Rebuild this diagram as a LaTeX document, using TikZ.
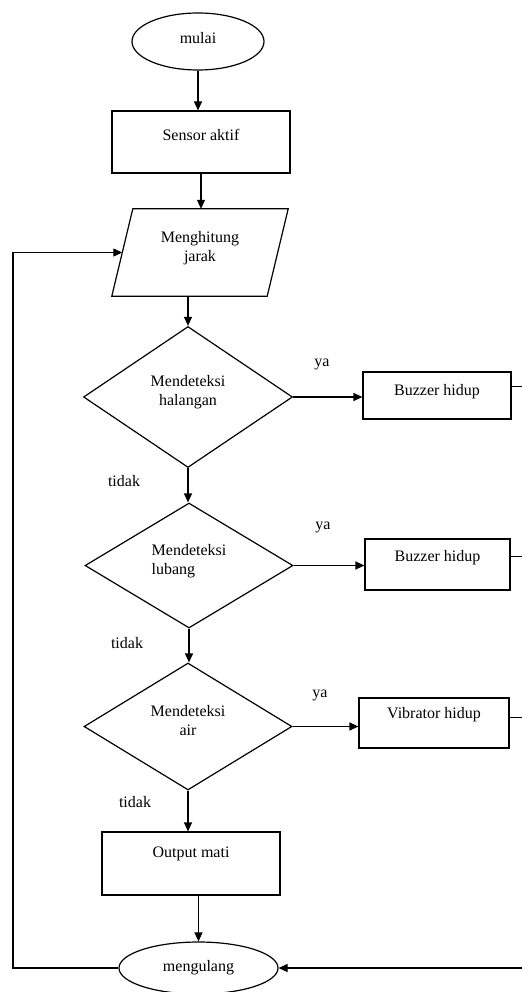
\documentclass[tikz,border=0pt]{standalone}
\usepackage{fontspec}
\setmainfont{Liberation Serif}
\usetikzlibrary{shapes.geometric,arrows.meta,calc}
\newcommand\mylift[2]{\raisebox{#1}[0pt][0pt]{#2}}
\begin{document}
\begin{tikzpicture}[x=1pt,y=-1pt,
  every node/.style={font=\fontsize{16}{19}\selectfont},
  line/.style={line width=1.2pt, black},
  arr/.style={line, -{Triangle[length=9pt,width=8pt]}},
  term/.style={draw, line width=1.2pt, ellipse, inner sep=0pt},
  procbox/.style={draw, line width=1.2pt, rectangle, inner sep=0pt},
  decide/.style={draw, line width=1.2pt, diamond, inner sep=0pt},
  inoutbox/.style={rectangle, inner sep=0pt},
  lbl/.style={anchor=base, inner sep=0pt}
]
\useasboundingbox (0,0) rectangle (522,992);

\node[term, minimum width=132pt, minimum height=57pt] (start) at (198,41.5) {\mylift{-2pt}{mulai}};
\node[procbox, minimum width=178pt, minimum height=62pt] (sensor) at (201,142) {\mylift{1.5pt}{Sensor aktif}};
\node[inoutbox, minimum width=176pt, minimum height=87pt] (par) at (200,252.5) {\mylift{0pt}{\begin{tabular}{@{}c@{}}Menghitung\\jarak\end{tabular}}};
\draw[line, line join=miter] (par.south west) -- ($(par.north west)+(21,0)$) -- (par.north east) -- ($(par.south east)+(-21,0)$) -- cycle;
\coordinate (parleft) at ($(par.west)+(10.5,0)$);

\node[decide, minimum width=209pt, minimum height=141pt] (d1) at (188,397) {\mylift{0pt}{\begin{tabular}{@{}c@{}}Mendeteksi\\halangan\end{tabular}}};
\node[decide, minimum width=208pt, minimum height=125pt] (d2) at (189,565.5) {\mylift{0pt}{\begin{tabular}{@{}l@{}}Mendeteksi\\lubang\end{tabular}}};
\node[decide, minimum width=208pt, minimum height=127pt] (d3) at (188,726.5) {\mylift{0pt}{\begin{tabular}{@{}c@{}}Mendeteksi\\air\end{tabular}}};

\node[procbox, minimum width=148pt, minimum height=47pt] (b1) at (437,395.5) {\mylift{0pt}{Buzzer hidup}};
\node[procbox, minimum width=145pt, minimum height=51pt] (b2) at (437.5,564.5) {\mylift{3pt}{Buzzer hidup}};
\node[procbox, minimum width=150pt, minimum height=50pt] (b3) at (434,723) {\mylift{4.5pt}{Vibrator hidup}};

\node[procbox, minimum width=178pt, minimum height=63pt] (out) at (191,863.5) {\mylift{6pt}{Output mati}};
\node[term, minimum width=159pt, minimum height=52pt] (m2) at (198.5,968) {\mylift{-3pt}{mengulang}};

\node[lbl] (ya1) at (322,366.5) {ya};
\node[lbl] (ya2) at (323,529) {ya};
\node[lbl] (ya3) at (320,697) {ya};
\node[lbl] (t1) at (124,486) {tidak};
\node[lbl] (t2) at (127,648) {tidak};
\node[lbl] (t3) at (135,807) {tidak};

\coordinate (edge) at (522,968);
\coordinate (lc) at (13,252.5);

\draw[arr] (start.south) -- (start.south |- sensor.north);
\draw[arr] (sensor.south) -- (sensor.south |- par.north);
\draw[arr] (d1.north |- par.south) -- (d1.north);
\draw[arr] (d1.south) -- (d1.south |- d2.north);
\draw[arr] (d2.south) -- (d2.south |- d3.north);
\draw[arr] (d3.south) -- (d3.south |- out.north);
\draw[arr] (m2.north |- out.south) -- (m2.north);

\draw[arr] (d1.east) -- (d1.east -| b1.west);
\draw[arr] (d2.east) -- (d2.east -| b2.west);
\draw[arr] (d3.east) -- (d3.east -| b3.west);

\draw[line] ($(b1.north east)+(0,15)$) coordinate (r1) -- (r1 -| edge);
\draw[line] ($(b2.north east)+(0,18)$) coordinate (r2) -- (r2 -| edge);
\draw[line] ($(b3.north east)+(0,20)$) coordinate (r3) -- (r3 -| edge);

\draw[arr] (edge) -- (m2.east);
\draw[arr] (m2.west) -| (lc) -- (parleft);
\end{tikzpicture}
\end{document}
